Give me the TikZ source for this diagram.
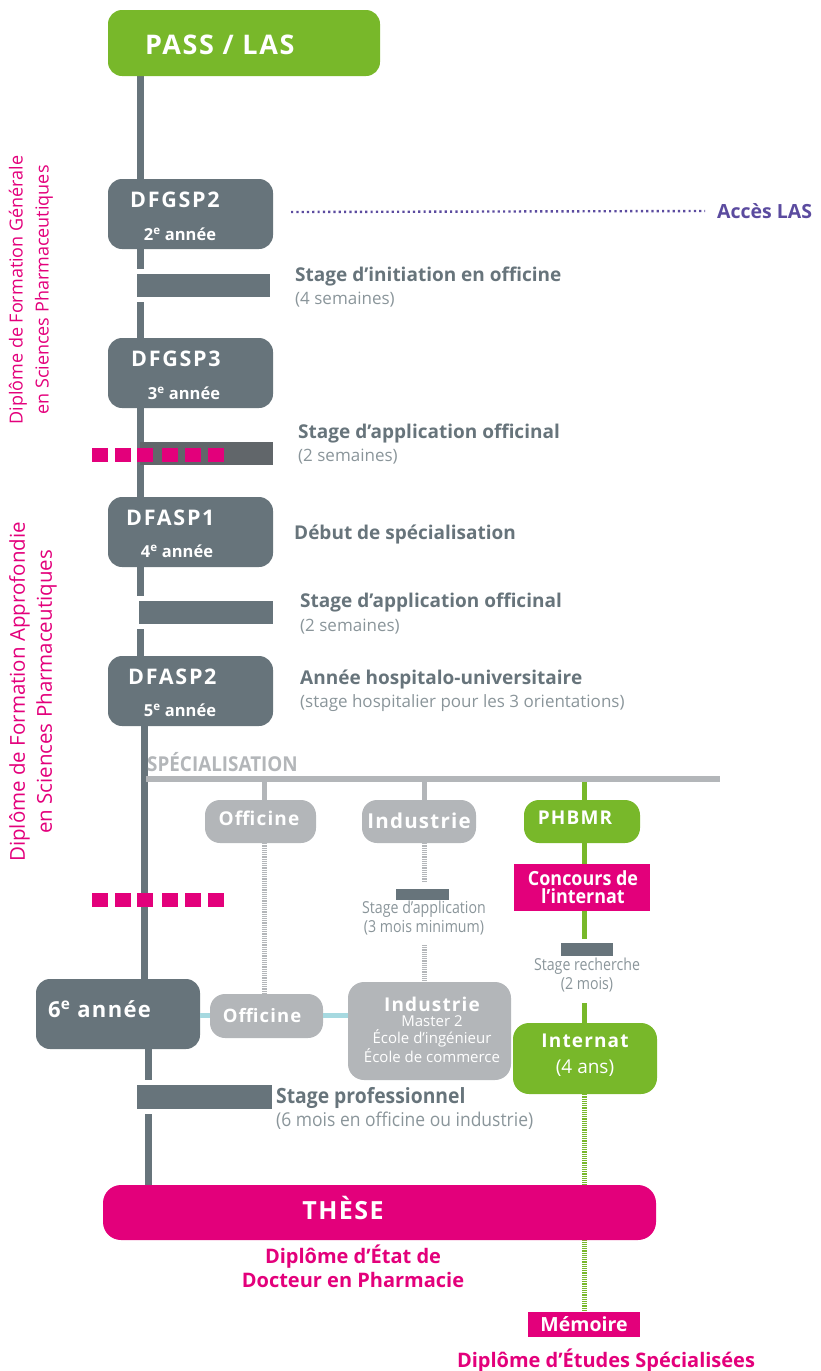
\documentclass[tikz,border=0pt]{standalone}
\usepackage{fontspec}
\setmainfont{Open Sans}
\newfontfamily\spaced[LetterSpace=8]{Open Sans}
\newfontfamily\lspaced[LetterSpace=6]{Open Sans}
\newfontfamily\cond[FakeStretch=0.86]{Open Sans}
\newfontfamily\condb[FakeStretch=0.92]{Open Sans}
\definecolor{dgray}{HTML}{67747B}
\definecolor{bgray}{HTML}{606468}
\definecolor{lgray}{HTML}{B3B6B9}
\definecolor{pgreen}{HTML}{78B82A}
\definecolor{pmag}{HTML}{E3007B}
\definecolor{purp}{HTML}{5B4B9F}
\definecolor{lblue}{HTML}{A6D9E0}
\definecolor{tgray}{HTML}{67747B}
\definecolor{sgray}{HTML}{8A959A}
\tikzset{
  yearbox/.style={fill=dgray, rounded corners=14pt, minimum width=165pt, minimum height=70pt, inner sep=0pt},
  graybox/.style={fill=lgray, rounded corners=15pt, inner sep=0pt},
  greenbox/.style={fill=pgreen, rounded corners=15pt, inner sep=0pt},
  stagebar/.style={fill=dgray, draw=white, line width=5pt, inner sep=0pt},
  smallbar/.style={fill=dgray, inner sep=0pt},
  spine/.style={draw=dgray, line width=7pt},
  hatchg/.style={draw=lgray, line width=5pt, dash pattern=on 1.1pt off 1.1pt},
  hatchgreen/.style={draw=pgreen, line width=5pt, dash pattern=on 1.1pt off 1.1pt},
  stub/.style={draw=lgray, line width=5pt},
  gstub/.style={draw=pgreen, line width=5pt},
  bluelink/.style={draw=lblue, line width=5pt},
  sq/.style={fill=pmag, minimum width=16pt, minimum height=14pt, inner sep=0pt},
  title/.style={text=white, font=\spaced\bfseries\fontsize{21.5}{22}\selectfont, inner sep=0pt, anchor=west},
  annee/.style={text=white, font=\bfseries\fontsize{16.5}{17}\selectfont, inner sep=0pt},
  lab/.style={text=tgray, font=\bfseries\fontsize{19}{20}\selectfont, inner sep=0pt, anchor=west},
  sub/.style={text=sgray, font=\fontsize{17}{18}\selectfont, inner sep=0pt, anchor=west},
  csub/.style={text=sgray, font=\cond\fontsize{16.5}{17}\selectfont, inner sep=0pt},
  boxt/.style={text=white, font=\lspaced\bfseries\fontsize{19}{20}\selectfont, inner sep=0pt},
  conct/.style={text=white, font=\condb\bfseries\fontsize{19.5}{20}\selectfont, inner sep=0pt},
  side/.style={text=pmag, align=center, rotate=90, inner sep=0pt},
}
\begin{document}
\begin{tikzpicture}[x=1pt, y=-1pt]
\useasboundingbox (0,0) rectangle (820,1371);

% spine
\coordinate (sp0) at (140,70);
\coordinate (sp1) at (140,690);
\coordinate (sp2) at (144,690);
\coordinate (sp3) at (144,1010);
\coordinate (sp4) at (148,1010);
\coordinate (sp5) at (148,1195);
\draw[spine] (sp0) -- (sp1);
\draw[spine] (sp2) -- (sp3);
\draw[spine] (sp4) -- (sp5);

% top box
\node[greenbox, rounded corners=14pt, minimum width=272pt, minimum height=66pt] (pass) at (244,43) {};
\node[text=white, font=\lspaced\bfseries\fontsize{27}{28}\selectfont, anchor=west, inner sep=0pt] (passt) at (145,45) {PASS / LAS};

% year boxes
\node[yearbox] (y2) at (190.5,214) {};
\node[title] (y2t) at (130,200) {DFGSP2};
\node[annee] (y2a) at (180,234) {2\textsuperscript{e} année};

\node[yearbox] (y3) at (190.5,373) {};
\node[title] (y3t) at (131,359) {DFGSP3};
\node[annee] (y3a) at (184,393) {3\textsuperscript{e} année};

\node[yearbox] (y4) at (190.5,532) {};
\node[title] (y4t) at (126,518) {DFASP1};
\node[annee] (y4a) at (177,551) {4\textsuperscript{e} année};

\node[yearbox] (y5) at (190.5,691) {};
\node[title] (y5t) at (128,677) {DFASP2};
\node[annee] (y5a) at (180,710) {5\textsuperscript{e} année};

% Acces LAS
\node[text=purp, font=\bfseries\fontsize{19.5}{20}\selectfont, anchor=west, inner sep=0pt] (acces) at (717,211) {Accès LAS};
\coordinate (acc0) at (291,212);
\draw[purp, line width=2.4pt, dash pattern=on 2.2pt off 3.1pt] (acc0) -- ([xshift=-12pt]acces.west);

% stage bars
\node[stagebar, minimum width=138pt, minimum height=28pt] (b1) at (203.5,285.5) {};
\node[lab] (b1t) at (295,277) {Stage d’initiation en officine};
\node[sub] (b1s) at (295,300) {(4 semaines)};

\node[smallbar, fill=bgray!90!dgray, minimum width=133pt, minimum height=23pt] (b2) at (206.5,453.5) {};
\node[lab] (b2t) at (298,434) {Stage d’application officinal};
\node[sub] (b2s) at (298,457) {(2 semaines)};

\node[lab] (deb) at (294,534) {Début de spécialisation};

\node[stagebar, minimum width=139pt, minimum height=28pt] (b3) at (206,612.5) {};
\node[lab] (b3t) at (300,603) {Stage d’application officinal};
\node[sub] (b3s) at (300,627) {(2 semaines)};

\node[lab] (y5l) at (300,679) {Année hospitalo-universitaire};
\node[sub] (y5s) at (300,703) {(stage hospitalier pour les 3 orientations)};

% magenta squares
\foreach \i/\x in {1/100,2/122.5,3/145,4/170,5/193,6/216}{
  \node[sq] (qa\i) at (\x,455) {};
  \node[sq] (qb\i) at (\x,900) {};
}

% side labels
\node[side, font=\fontsize{18}{26}\selectfont] (dfg) at (31,290) {Diplôme de Formation Générale\\en Sciences Pharmaceutiques};
\node[side, font=\fontsize{20.5}{27}\selectfont] (dfa) at (33,692) {Diplôme de Formation Approfondie\\en Sciences Pharmaceutiques};

% specialisation
\node[text=lgray, font=\condb\bfseries\fontsize{20.5}{21}\selectfont, anchor=west, inner sep=0pt] (spec) at (147,762) {SPÉCIALISATION};
\coordinate (sb0) at (146,779);
\coordinate (sb1) at (720,779);
\draw[draw=lgray, line width=6pt] (sb0) -- (sb1);

\node[graybox, minimum width=111pt, minimum height=43pt] (off1) at (260.5,821.5) {};
\node[boxt] (off1t) at (259,818) {Officine};
\node[graybox, minimum width=114pt, minimum height=43pt] (ind1) at (419,821.5) {};
\node[boxt, font=\lspaced\bfseries\fontsize{20.5}{21}\selectfont] (ind1t) at (419,821) {Industrie};
\node[greenbox, minimum width=116pt, minimum height=43pt] (ph) at (582,821.5) {};
\node[boxt] (pht) at (575,818) {PHBMR};

\coordinate (st1) at (264,782);
\coordinate (st2) at (424,782);
\coordinate (st3) at (584,782);
\draw[stub] (st1) -- (st1 |- off1.north);
\draw[stub] (st2) -- (st2 |- ind1.north);
\draw[gstub] (st3) -- (st3 |- ph.north);

% officine branch
\node[graybox, minimum width=113pt, minimum height=44pt] (off2) at (266.5,1016) {};
\node[boxt, font=\lspaced\bfseries\fontsize{18.5}{19}\selectfont] (off2t) at (262,1015) {Officine};
\draw[hatchg] (st1 |- off1.south) -- (st1 |- off2.north);

% industrie branch
\coordinate (i1) at (424,882);
\node[smallbar, minimum width=53pt, minimum height=11pt] (ib) at (422.5,894.5) {};
\node[csub] (ibt) at (424,909) {Stage d’application};
\node[csub] (ibs) at (424,928) {(3 mois minimum)};
\coordinate (i2) at (424,945);
\node[graybox, rounded corners=16pt, minimum width=163pt, minimum height=98pt] (ind2) at (429.5,1031) {};
\draw[hatchg] (st2 |- ind1.south) -- (i1);
\draw[hatchg] (i2) -- (i2 |- ind2.north);
\node[boxt] (ind2t) at (432,1004) {Industrie};
\node[text=white, font=\fontsize{15}{17.5}\selectfont, align=center, inner sep=0pt, anchor=north] (ind2s) at (432,1015) {Master 2\\École d’ingénieur\\École de commerce};

% phbmr branch
\node[fill=pmag, minimum width=136pt, minimum height=47pt, inner sep=0pt] (conc) at (582,887.5) {};
\node[conct] (conc1) at (583,878) {Concours de};
\node[conct] (conc2) at (583,896) {l’internat};
\draw[gstub] (st3 |- ph.south) -- (st3 |- conc.north);
\coordinate (p1) at (584,939);
\draw[gstub] (st3 |- conc.south) -- (p1);
\node[smallbar, minimum width=52pt, minimum height=13pt] (pb) at (587,949.5) {};
\node[csub] (pbt) at (587,966) {Stage recherche};
\node[csub] (pbs) at (587,985) {(2 mois)};
\coordinate (p2) at (584,1003);
\node[greenbox, rounded corners=16pt, minimum width=144pt, minimum height=71pt] (intn) at (585,1058.5) {};
\draw[gstub] (p2) -- (p2 |- intn.north);
\node[boxt] (intt) at (585,1041) {Internat};
\node[text=white, font=\fontsize{19}{20}\selectfont, inner sep=0pt] (ints) at (585,1068) {(4 ans)};

% memoire
\node[fill=pmag, minimum width=112pt, minimum height=25pt, inner sep=0pt] (mem) at (584,1324.5) {};
\node[text=white, font=\bfseries\fontsize{19.5}{20}\selectfont, inner sep=0pt] (memt) at (584,1324) {Mémoire};
\draw[hatchgreen] (st3 |- intn.south) -- (st3 |- mem.north);

% 6e annee
\node[yearbox, minimum width=164pt] (y6) at (118,1014) {};
\node[text=white, font=\lspaced\bfseries\fontsize{22}{23}\selectfont, anchor=west, inner sep=0pt] (y6t) at (48,1009) {6\textsuperscript{e} année};
\draw[bluelink] (y6.east |- 0,1015) -- (off2.west |- 0,1015);
\draw[bluelink] (off2.east |- 0,1015) -- (ind2.west |- 0,1015);

% stage pro
\node[stagebar, minimum width=140pt, minimum height=29pt] (b4) at (204.5,1097) {};
\node[text=tgray, font=\condb\bfseries\fontsize{21}{22}\selectfont, anchor=west, inner sep=0pt] (b4t) at (276,1098) {Stage professionnel};
\node[text=sgray, font=\condb\fontsize{19}{20}\selectfont, anchor=west, inner sep=0pt] (b4s) at (276,1121) {(6 mois en officine ou industrie)};

% these
\node[fill=pmag, rounded corners=18pt, minimum width=553pt, minimum height=55pt, inner sep=0pt] (these) at (379.5,1212.5) {};
\node[text=white, font=\lspaced\bfseries\fontsize{25}{26}\selectfont, inner sep=0pt] (theset) at (343,1208) {THÈSE};
\node[text=pmag, font=\bfseries\fontsize{20}{24}\selectfont, align=center, inner sep=0pt] (dedp) at (353,1266) {Diplôme d’État de\\Docteur en Pharmacie};
\node[text=pmag, font=\bfseries\fontsize{20}{21}\selectfont, inner sep=0pt] (des) at (606,1361) {Diplôme d’Études Spécialisées};
\end{tikzpicture}
\end{document}
